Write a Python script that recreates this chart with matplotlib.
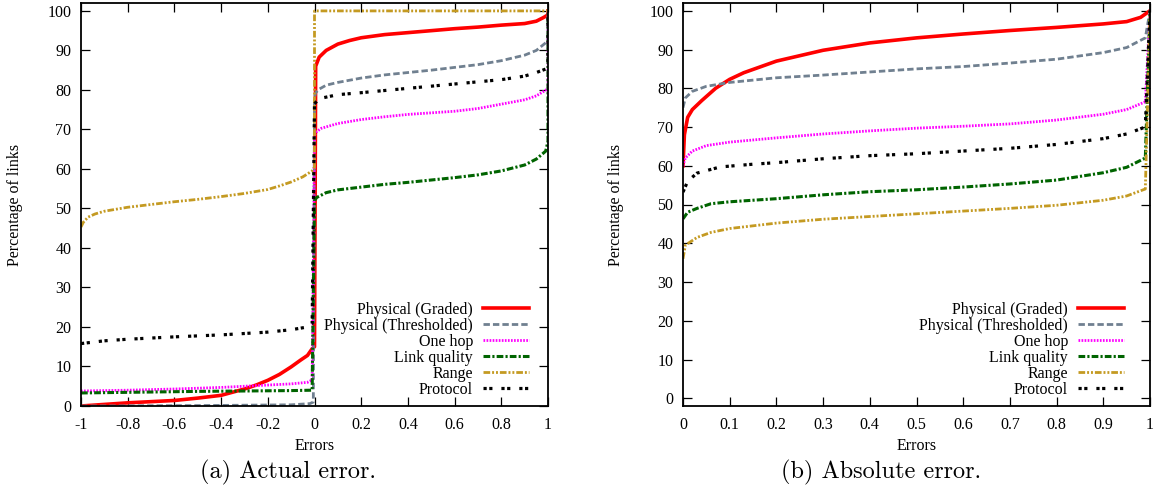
import numpy as np
import matplotlib
matplotlib.use('Agg')
from matplotlib import pyplot as plt

plt.rcParams['font.family'] = ['Liberation Serif', 'DejaVu Serif']
plt.rcParams['axes.unicode_minus'] = False

labels = ['Physical (Graded)', 'Physical (Thresholded)', 'One hop', 'Link quality', 'Range', 'Protocol']
colors = ['#ff0000', '#708090', '#ff00ff', '#006400', '#c49a22', '#000000']
widths = [2.6, 2.0, 2.0, 2.2, 2.0, 2.3]
styles = ['-', (0, (2.3, 1.1)), (0, (0.6, 0.5)), (0, (2.2, 0.7, 0.7, 0.7)),
          (0, (2.4, 0.7, 0.7, 0.7, 0.7, 0.7)), (0, (1, 0.8, 1, 2.8))]

# (a) actual error
graded_a_x = [-1, -0.9, -0.8, -0.7, -0.6, -0.5, -0.4, -0.3, -0.25, -0.2, -0.15, -0.1, -0.06, -0.03, -0.01, 0,
              0.005, 0.02, 0.05, 0.1, 0.15, 0.2, 0.3, 0.4, 0.5, 0.6, 0.7, 0.8, 0.9, 0.95, 0.98, 1, 1]
graded_a_y = [0, 0.4, 0.8, 1.1, 1.4, 2.0, 2.7, 4.3, 5.3, 6.5, 8.0, 9.9, 11.6, 12.8, 14.5, 15,
              86, 88.3, 90.0, 91.6, 92.5, 93.2, 94.0, 94.5, 95.0, 95.5, 95.9, 96.4, 96.8, 97.4, 98.3, 99, 100]

thresh_a_x = [-1, -0.5, -0.1, -0.02, -0.005, 0, 0.005, 0.02, 0.05, 0.1, 0.2, 0.3, 0.4, 0.5, 0.6, 0.7, 0.8,
              0.9, 0.95, 1, 1]
thresh_a_y = [0, 0.1, 0.3, 0.6, 1.0, 78, 79.3, 80.2, 81.2, 81.9, 83.0, 83.8, 84.4, 85.0, 85.7, 86.4, 87.4,
              88.8, 90.0, 92.4, 100]

onehop_a_x = [-1, -0.8, -0.6, -0.4, -0.3, -0.2, -0.1, -0.03, -0.01, 0, 0.01, 0.03, 0.1, 0.2, 0.3, 0.4, 0.5,
              0.6, 0.7, 0.8, 0.9, 0.95, 1, 1]
onehop_a_y = [3.8, 4.0, 4.3, 4.7, 5.0, 5.3, 5.6, 6.0, 6.6, 68.5, 69.5, 70.3, 71.5, 72.5, 73.2, 73.8, 74.2,
              74.6, 75.3, 76.4, 77.5, 78.5, 80.3, 100]

linkq_a_x = [-1, -0.5, -0.1, -0.01, 0, 0.01, 0.05, 0.1, 0.2, 0.3, 0.4, 0.5, 0.6, 0.7, 0.8, 0.9, 0.95, 0.99,
             1, 1]
linkq_a_y = [3.3, 3.7, 3.9, 4.0, 52, 52.8, 54.0, 54.7, 55.4, 56.1, 56.6, 57.2, 57.8, 58.5, 59.5, 61.0, 62.5,
             64.5, 67, 100]

range_a_x = [-1, -0.99, -0.97, -0.94, -0.9, -0.8, -0.7, -0.6, -0.5, -0.4, -0.3, -0.2, -0.15, -0.1, -0.05,
             -0.01, 0, 0, 1]
range_a_y = [45.3, 46.5, 47.8, 48.6, 49.3, 50.3, 51.0, 51.7, 52.3, 53.0, 53.8, 54.8, 55.7, 56.7, 58.0,
             59.5, 60.5, 100, 100]

proto_a_x = [-1, -0.9, -0.8, -0.6, -0.4, -0.2, -0.1, -0.03, -0.01, 0, 0.02, 0.1, 0.2, 0.4, 0.6, 0.8, 0.9,
             0.95, 1, 1]
proto_a_y = [15.8, 16.5, 16.9, 17.5, 18.0, 18.7, 19.3, 20.0, 20.8, 76.5, 77.8, 78.8, 79.3, 80.4, 81.5, 82.6,
             83.5, 84.4, 85.5, 100]

# (b) absolute error
graded_b_x = [0, 0.003, 0.01, 0.02, 0.04, 0.07, 0.1, 0.13, 0.2, 0.3, 0.4, 0.5, 0.6, 0.7, 0.8, 0.9, 0.95, 0.98, 1]
graded_b_y = [60, 68, 72.5, 74.5, 76.8, 80.0, 82.3, 84.0, 87.0, 89.8, 91.7, 93.0, 94.0, 94.9, 95.7, 96.6,
              97.2, 98.3, 100]

thresh_b_x = [0, 0.005, 0.02, 0.05, 0.1, 0.2, 0.3, 0.4, 0.5, 0.6, 0.7, 0.8, 0.9, 0.95, 0.99, 1]
thresh_b_y = [75, 77.5, 79.2, 80.5, 81.5, 82.7, 83.4, 84.2, 85.0, 85.6, 86.5, 87.5, 89.2, 90.5, 93, 100]

onehop_b_x = [0, 0.005, 0.02, 0.05, 0.1, 0.2, 0.3, 0.4, 0.5, 0.6, 0.7, 0.8, 0.9, 0.95, 0.99, 1]
onehop_b_y = [60, 62, 63.8, 65.2, 66.1, 67.2, 68.2, 69.0, 69.7, 70.2, 70.8, 71.8, 73.3, 74.5, 76.5, 100]

linkq_b_x = [0, 0.01, 0.03, 0.06, 0.1, 0.2, 0.3, 0.4, 0.5, 0.6, 0.7, 0.8, 0.9, 0.95, 0.99, 1]
linkq_b_y = [46.3, 48.0, 49.0, 50.2, 50.7, 51.5, 52.5, 53.3, 53.8, 54.5, 55.3, 56.3, 58.2, 59.6, 62, 100]

range_b_x = [0, 0.005, 0.03, 0.06, 0.1, 0.2, 0.3, 0.4, 0.5, 0.6, 0.7, 0.8, 0.9, 0.95, 0.99, 1]
range_b_y = [36, 39.5, 41.5, 42.8, 43.8, 45.2, 46.2, 46.9, 47.6, 48.3, 49.0, 49.8, 51.1, 52.2, 54, 100]

proto_b_x = [0, 0.01, 0.03, 0.08, 0.15, 0.2, 0.3, 0.4, 0.5, 0.6, 0.7, 0.8, 0.9, 0.95, 0.99, 1]
proto_b_y = [53.2, 56.0, 58.1, 59.7, 60.4, 60.8, 61.8, 62.6, 63.1, 63.8, 64.5, 65.5, 67.0, 68.2, 70, 100]

series_a = [(graded_a_x, graded_a_y), (thresh_a_x, thresh_a_y), (onehop_a_x, onehop_a_y),
            (linkq_a_x, linkq_a_y), (range_a_x, range_a_y), (proto_a_x, proto_a_y)]
series_b = [(graded_b_x, graded_b_y), (thresh_b_x, thresh_b_y), (onehop_b_x, onehop_b_y),
            (linkq_b_x, linkq_b_y), (range_b_x, range_b_y), (proto_b_x, proto_b_y)]

xticks_a = [-1, -0.8, -0.6, -0.4, -0.2, 0, 0.2, 0.4, 0.6, 0.8, 1]
xlabels_a = ['-1', '-0.8', '-0.6', '-0.4', '-0.2', '0', '0.2', '0.4', '0.6', '0.8', '1']
xticks_b = [0, 0.1, 0.2, 0.3, 0.4, 0.5, 0.6, 0.7, 0.8, 0.9, 1]
xlabels_b = ['0', '0.1', '0.2', '0.3', '0.4', '0.5', '0.6', '0.7', '0.8', '0.9', '1']
yticks = [0, 10, 20, 30, 40, 50, 60, 70, 80, 90, 100]

W, H = 1154, 491
fig = plt.figure(figsize=(W / 100, H / 100), dpi=100)


def px_rect(x0, x1, y0, y1):
    return [x0 / W, 1 - y1 / H, (x1 - x0) / W, (y1 - y0) / H]


panels = [
    (px_rect(81, 548, 3, 406), series_a, (-1, 1), (0, 102), xticks_a, xlabels_a, 15, 19, '(a) Actual error.', 288),
    (px_rect(683, 1150, 3, 406), series_b, (0, 1), (-2, 102), xticks_b, xlabels_b, 616, 26, '(b) Absolute error.', 881),
]

for rect, series, xlim, ylim, xt, xl, ylab_x, leg_gap, caption, cap_x in panels:
    ax = fig.add_axes(rect)
    for (x, y), lab, c, lw, ls in zip(series, labels, colors, widths, styles):
        ax.plot(x, y, color=c, lw=lw, linestyle=ls, label=lab, dash_capstyle='butt')
    ax.set_xlim(*xlim)
    ax.set_ylim(*ylim)
    ax.set_xticks(xt, xl)
    ax.set_yticks(yticks)
    ax.tick_params(direction='in', length=6.5, width=0.9, top=True, right=True, labelsize=11.5)
    ax.tick_params(axis='y', pad=7)
    ax.tick_params(axis='x', pad=8)
    for s in ax.spines.values():
        s.set_linewidth(1.3)
    ax.set_xlabel('Errors', fontsize=11.5, va='center')
    ax.xaxis.set_label_coords(0.5, -40 / 403)
    ax.set_ylabel('Percentage of links', fontsize=11.5, va='center')
    ax.yaxis.set_label_coords((ylab_x - rect[0] * W) / 467, 0.5)
    ax.legend(loc='lower right', bbox_to_anchor=(1 - leg_gap / 467, 8 / 403), frameon=False,
              markerfirst=False, fontsize=11.5, handlelength=2.9, handletextpad=0.6,
              labelspacing=0.0, borderpad=0, borderaxespad=0)
    fig.text(cap_x / W, 1 - 472 / H, caption, fontfamily='cmr10', fontsize=17.5, ha='center', va='center')

plt.savefig('out.png', dpi=100)
plt.close()
